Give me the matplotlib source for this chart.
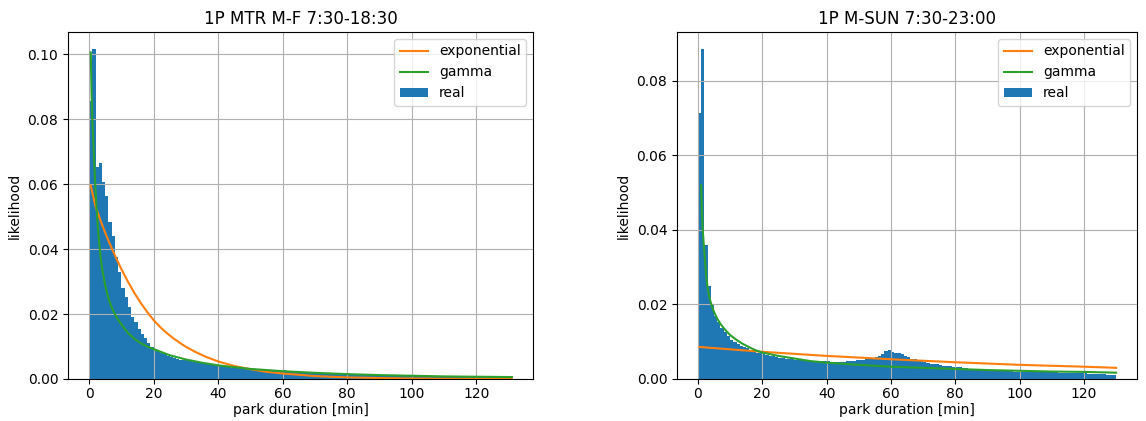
import matplotlib
matplotlib.use("Agg")
import matplotlib.pyplot as plt
import numpy as np

# ---------------- data ----------------
titles = ["1P MTR M-F 7:30-18:30", "1P M-SUN 7:30-23:00"]
xlabel = "park duration [min]"
ylabel = "likelihood"

bin_width = 1.0

# left panel histogram (1-min bins starting at 0)
real_left = [
    0.0854, 0.1017, 0.0651, 0.0665, 0.0606, 0.0564, 0.0483, 0.0440, 0.0376, 0.0330,
    0.0281, 0.0251, 0.0223, 0.0191, 0.0176, 0.0155, 0.0138, 0.0125, 0.0110, 0.0100,
    0.0092, 0.0085, 0.0080, 0.0076, 0.0072, 0.0069, 0.0065, 0.0062, 0.0060, 0.0058,
    0.0057, 0.0055, 0.0053, 0.0051, 0.0049, 0.0048, 0.0046, 0.0045, 0.0043, 0.0042,
    0.0041, 0.0039, 0.0038, 0.0037, 0.0035, 0.0034, 0.0033, 0.0032, 0.0031, 0.0031,
    0.0030, 0.0029, 0.0028, 0.0027, 0.0027, 0.0026, 0.0025, 0.0025, 0.0024, 0.0026,
    0.0029, 0.0023, 0.0022, 0.0022, 0.0021, 0.0023, 0.0020, 0.0020, 0.0019, 0.0019,
    0.0018, 0.0018, 0.0017, 0.0017, 0.0016, 0.0016, 0.0016, 0.0015, 0.0015, 0.0014,
    0.0014, 0.0014, 0.0013, 0.0013, 0.0013, 0.0012, 0.0012, 0.0012, 0.0011, 0.0011,
    0.0011, 0.0011, 0.0010, 0.0010, 0.0010, 0.0010, 0.0009, 0.0009, 0.0009, 0.0009,
    0.0009, 0.0008, 0.0008, 0.0008, 0.0008, 0.0008, 0.0008, 0.0007, 0.0007, 0.0007,
    0.0007, 0.0007, 0.0007, 0.0006, 0.0006, 0.0006, 0.0006, 0.0006, 0.0006, 0.0006,
    0.0005, 0.0005, 0.0005, 0.0005, 0.0005, 0.0005, 0.0005, 0.0005, 0.0005, 0.0005,
]

# right panel histogram (1-min bins starting at 0)
real_right = [
    0.0714, 0.0887, 0.0359, 0.0250, 0.0198, 0.0168, 0.0152, 0.0136, 0.0125, 0.0116,
    0.0105, 0.0098, 0.0094, 0.0089, 0.0085, 0.0082, 0.0078, 0.0075, 0.0071, 0.0070,
    0.0067, 0.0065, 0.0063, 0.0061, 0.0059, 0.0057, 0.0056, 0.0055, 0.0054, 0.0053,
    0.0052, 0.0051, 0.0050, 0.0050, 0.0049, 0.0049, 0.0048, 0.0048, 0.0047, 0.0047,
    0.0047, 0.0046, 0.0045, 0.0045, 0.0045, 0.0046, 0.0047, 0.0048, 0.0049, 0.0050,
    0.0051, 0.0052, 0.0053, 0.0054, 0.0055, 0.0058, 0.0063, 0.0068, 0.0074, 0.0077,
    0.0073, 0.0071, 0.0070, 0.0067, 0.0062, 0.0058, 0.0055, 0.0053, 0.0050, 0.0048,
    0.0046, 0.0044, 0.0041, 0.0040, 0.0039, 0.0038, 0.0036, 0.0035, 0.0034, 0.0033,
    0.0032, 0.0031, 0.0030, 0.0029, 0.0028, 0.0027, 0.0026, 0.0025, 0.0025, 0.0024,
    0.0024, 0.0023, 0.0023, 0.0022, 0.0022, 0.0022, 0.0021, 0.0021, 0.0020, 0.0020,
    0.0020, 0.0020, 0.0019, 0.0019, 0.0019, 0.0019, 0.0019, 0.0018, 0.0018, 0.0018,
    0.0018, 0.0018, 0.0017, 0.0017, 0.0017, 0.0017, 0.0017, 0.0017, 0.0017, 0.0015,
    0.0015, 0.0014, 0.0014, 0.0014, 0.0013, 0.0013, 0.0013, 0.0012, 0.0012, 0.0012,
]

# fitted curves
exp_left_x = [0.5, 2, 4, 6, 8, 10, 12, 14, 16, 18, 20, 22, 24, 26, 28, 30, 33, 36, 40, 45, 50, 55,
              60, 70, 80, 90, 100, 110, 120, 131]
exp_left_y = [0.0595, 0.0530, 0.0475, 0.0425, 0.0380, 0.0338, 0.0300, 0.0265, 0.0234, 0.0206, 0.0181,
              0.0160, 0.0142, 0.0126, 0.0112, 0.0099, 0.0083, 0.0069, 0.0054, 0.0040, 0.0030, 0.0022,
              0.0017, 0.0009, 0.0005, 0.0003, 0.00015, 0.0001, 0.00005, 0.00002]

gam_left_x = [0.5, 0.75, 1, 1.5, 2, 2.5, 3, 3.5, 4, 5, 6, 7, 8, 9, 10, 12, 14, 16, 18, 20, 25, 30,
              35, 40, 50, 60, 70, 80, 90, 100, 110, 120, 131]
gam_left_y = [0.1005, 0.0880, 0.0797, 0.0680, 0.0575, 0.0495, 0.0430, 0.0380, 0.0340, 0.0287, 0.0247,
              0.0220, 0.0199, 0.0182, 0.0168, 0.0142, 0.0124, 0.0110, 0.0100, 0.0092, 0.0073, 0.0060,
              0.0050, 0.0042, 0.0031, 0.0024, 0.0019, 0.0015, 0.0012, 0.0010, 0.0008, 0.0007, 0.0006]

exp_right_x = [0.5, 20, 40, 60, 80, 100, 120, 130]
exp_right_y = [0.0086, 0.0073, 0.0062, 0.0053, 0.0045, 0.0038, 0.0033, 0.0030]

gam_right_x = [1.0, 1.25, 1.5, 2, 2.6, 3, 3.5, 4, 5, 6, 7, 8, 9, 10, 12, 14, 16, 18, 20, 25, 30, 35,
               40, 50, 60, 70, 80, 90, 100, 110, 120, 130]
gam_right_y = [0.0520, 0.0450, 0.0400, 0.0340, 0.0275, 0.0245, 0.0222, 0.0205, 0.0180, 0.0162,
               0.0148, 0.0137, 0.0127, 0.0118, 0.0105, 0.0094, 0.0085, 0.0077, 0.0071, 0.0062,
               0.0055, 0.0048, 0.0044, 0.0038, 0.0033, 0.0030, 0.0027, 0.0024, 0.0022, 0.0020,
               0.0019, 0.0017]

panels = [
    (real_left, exp_left_x, exp_left_y, gam_left_x, gam_left_y),
    (real_right, exp_right_x, exp_right_y, gam_right_x, gam_right_y),
]

# ---------------- figure ----------------
W, H = 1146, 421
fig = plt.figure(figsize=(W / 100, H / 100), dpi=100)
axes_px = [(68, 32, 533, 379), (677, 32, 1137, 379)]

for (x0, y0, x1, y1), title, (real, ex, ey, gx, gy) in zip(axes_px, titles, panels):
    ax = fig.add_axes([x0 / W, 1 - y1 / H, (x1 - x0) / W, (y1 - y0) / H])
    ax.plot(ex, ey, color="C1", label="exponential")
    ax.plot(gx, gy, color="C2", label="gamma")
    edges = np.arange(len(real)) * bin_width
    ax.bar(edges, real, width=bin_width, align="edge", color="C0", label="real")
    ax.set_title(title)
    ax.set_xlabel(xlabel, labelpad=2)
    ax.set_ylabel(ylabel)
    ax.tick_params(axis="x", pad=2)
    ax.grid(True)
    ax.legend(loc="upper right")

fig.savefig("out.png", dpi=100)
